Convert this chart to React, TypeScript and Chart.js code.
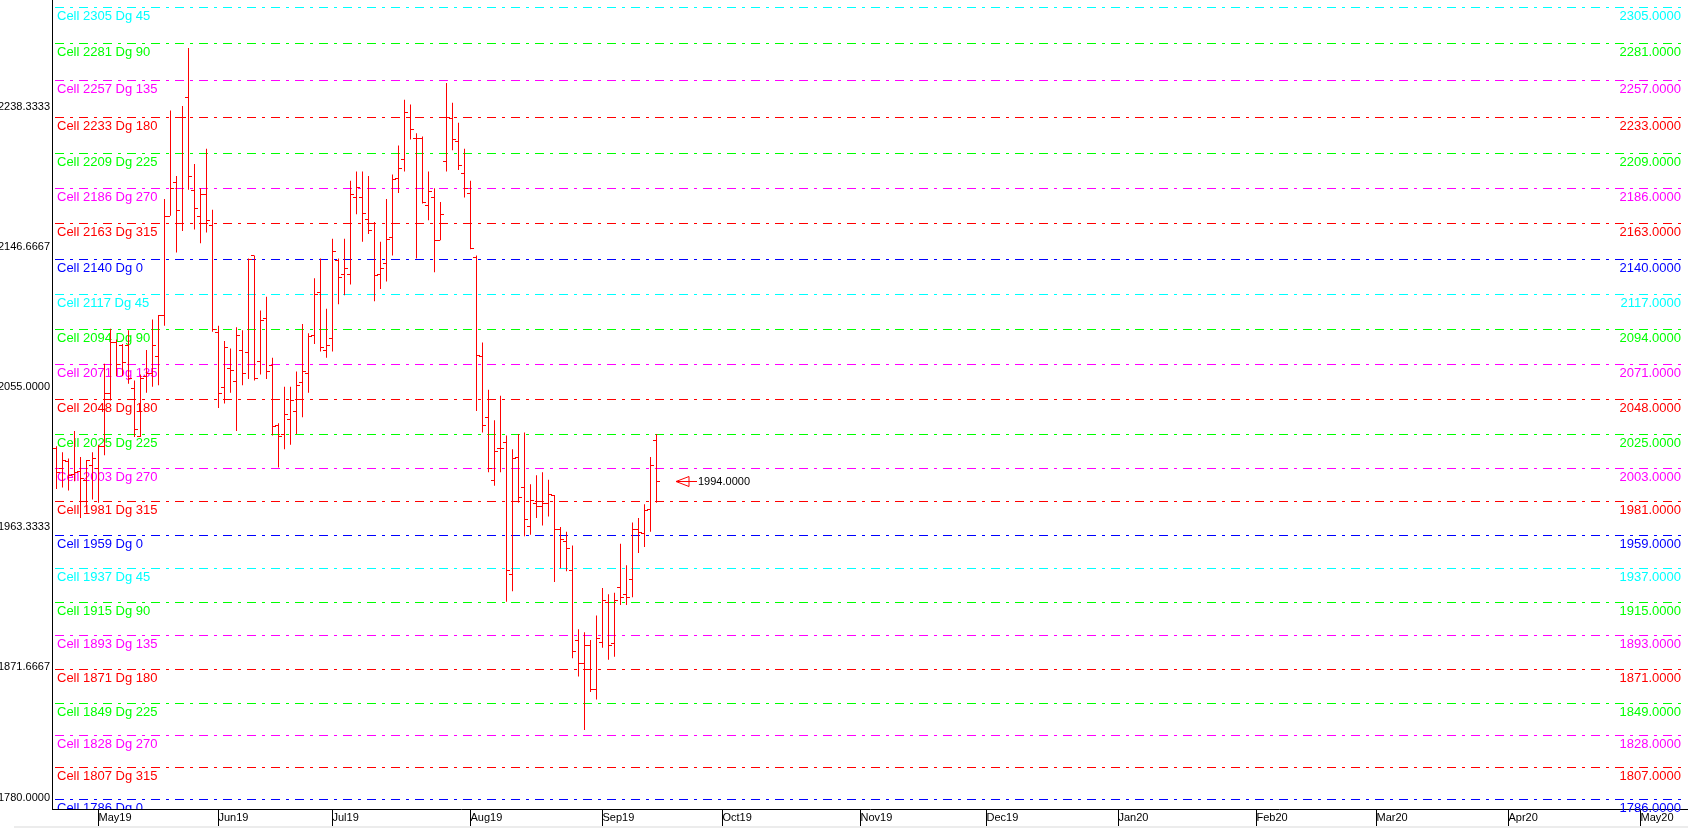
import React, { useEffect, useRef } from "react";
import { Chart, registerables } from "chart.js";
Chart.register(...registerables);

// ---- Data (trading-day index 0..100) ----
const opens = [2016,2003,2007,1999,2001,1995,2005,2003,2017,2052,2085,2083,2083,2055,2024,2063,2065,2076,2103,2168,2190,2163,2246,2185,2168,2182,2162,2092,2056,2068,2060,2080,2079,2142,2073,2101,2070,2031,2025,2035,2040,2059,2065,2090,2118,2080,2088,2139,2130,2130,2180,2180,2166,2163,2130,2137,2154,2193,2205,2233,2219,2219,2175,2180,2152,2204,2232,2217,2196,2183,2141,2076,2036,1995,2016,2020,1933,2010,1990,1965,1980,1978,1980,1985,1963,1955,1936,1890,1875,1887,1858,1889,1915,1888,1925,1920,1930,1963,1960,1976,2021];
const highs = [2017,2013,2009,2027,2010,2008,2013,2018,2071,2094,2087,2084,2093,2060,2064,2080,2100,2103,2179,2237,2194,2240,2278,2202,2186,2212,2172,2096,2086,2081,2095,2093,2140,2142,2106,2115,2075,2032,2056,2056,2066,2097,2091,2127,2140,2107,2153,2140,2153,2191,2197,2197,2194,2164,2151,2179,2195,2214,2244,2241,2222,2220,2197,2186,2177,2255,2242,2229,2212,2191,2142,2085,2054,2034,2050,2024,2015,2025,2026,1992,1998,2000,1995,1985,1964,1961,1952,1897,1895,1890,1906,1924,1920,1921,1953,1939,1967,1970,1979,2010,2025];
const lows = [1989,1990,1988,1994,1970,1974,1982,1980,2011,2047,2063,2063,2058,2023,2023,2052,2056,2057,2096,2168,2144,2158,2185,2159,2150,2157,2092,2042,2045,2052,2027,2057,2061,2060,2064,2061,2024,2003,2015,2018,2025,2036,2052,2084,2079,2075,2079,2110,2116,2123,2169,2151,2156,2112,2120,2125,2142,2183,2197,2218,2140,2176,2165,2131,2152,2197,2211,2198,2180,2146,2040,2026,2000,1991,2000,1915,1922,1980,1958,1959,1970,1965,1971,1928,1937,1935,1878,1866,1831,1856,1851,1885,1877,1879,1913,1913,1918,1947,1951,1961,1980];
const closes = [2000,2008,1998,2000,1996,2008,2009,2017,2052,2085,2071,2072,2062,2028,2062,2065,2083,2103,2168,2186,2172,2233,2194,2173,2182,2165,2094,2052,2082,2067,2090,2065,2140,2062,2100,2066,2030,2024,2038,2047,2057,2066,2089,2117,2082,2083,2145,2128,2134,2182,2187,2170,2159,2129,2134,2153,2192,2199,2236,2225,2219,2177,2184,2152,2169,2233,2218,2201,2186,2147,2077,2031,2003,2014,2016,1936,2009,1984,1969,1982,1978,1980,1986,1963,1956,1950,1883,1875,1887,1858,1891,1916,1887,1916,1918,1918,1963,1961,1975,2005,1994];

// month tick labels on the x axis (trading-day index of first day of month)
const monthLabels = ["May19","Jun19","Jul19","Aug19","Sep19","Oct19","Nov19","Dec19","Jan20","Feb20","Mar20","Apr20","May20"];
const monthIndex = [7,27,46,69,91,111,134,155,177,200,220,242,264];

// y-axis tick values
const yTickValues = [1780, 1871.6667, 1963.3333, 2055, 2146.6667, 2238.3333];

// Gann cell levels
const levelValues = [2305,2281,2257,2233,2209,2186,2163,2140,2117,2094,2071,2048,2025,2003,1981,1959,1937,1915,1893,1871,1849,1828,1807,1786];
const levelDegrees = [45,90,135,180,225,270,315,0,45,90,135,180,225,270,315,0,45,90,135,180,225,270,315,0];

const degreeColors: Record<number, string> = {
  0: "#0000ff", 45: "#00ffff", 90: "#00ff00", 135: "#ff00ff",
  180: "#ff0000", 225: "#00ff00", 270: "#ff00ff", 315: "#ff0000",
};

const FONT = "'Liberation Sans', Arial, sans-serif";
const X_MIN = -0.75;
const X_MAX = 271.9167;
const Y_MIN = 1779.25;
const Y_MAX = 2309.4;

const levelsPlugin = {
  id: "levels",
  beforeDatasetsDraw(chart: any) {
    const { ctx, chartArea, scales } = chart;
    const y = scales.y;
    ctx.save();
    ctx.beginPath();
    ctx.rect(chartArea.left + 1, chartArea.top, chartArea.right - chartArea.left, chartArea.bottom - chartArea.top);
    ctx.clip();
    ctx.lineWidth = 1;
    ctx.setLineDash([9, 6, 3, 6]);
    levelValues.forEach((v, k) => {
      const col = degreeColors[levelDegrees[k]];
      const py = Math.round(y.getPixelForValue(v)) + 0.5;
      ctx.strokeStyle = col;
      ctx.beginPath();
      ctx.moveTo(chartArea.left + 3, py);
      ctx.lineTo(1682, py);
      ctx.stroke();
    });
    ctx.setLineDash([]);
    ctx.font = `13px ${FONT}`;
    ctx.textBaseline = "alphabetic";
    ctx.textAlign = "left";
    levelValues.forEach((v, k) => {
      const col = degreeColors[levelDegrees[k]];
      const py = Math.round(y.getPixelForValue(v));
      ctx.fillStyle = col;
      ctx.fillText(`Cell ${v} Dg ${levelDegrees[k]}`, chartArea.left + 5, py + 13);
    });
    ctx.restore();
    ctx.save();
    ctx.font = `13px ${FONT}`;
    ctx.textBaseline = "alphabetic";
    ctx.textAlign = "right";
    levelValues.forEach((v, k) => {
      const col = degreeColors[levelDegrees[k]];
      const py = Math.round(y.getPixelForValue(v));
      ctx.fillStyle = col;
      ctx.fillText(v.toFixed(4), 1681, py + 13);
    });
    ctx.restore();
  },
};

const ohlcTicksPlugin = {
  id: "ohlcTicks",
  afterDatasetsDraw(chart: any) {
    const { ctx, scales, chartArea } = chart;
    const x = scales.x;
    const y = scales.y;
    ctx.save();
    ctx.fillStyle = "#ff0000";
    for (let i = 0; i < opens.length; i++) {
      const px = Math.floor(x.getPixelForValue(i));
      const yo = Math.round(y.getPixelForValue(opens[i]));
      const yc = Math.round(y.getPixelForValue(closes[i]));
      ctx.fillRect(px - 3, yo, 3, 1);
      ctx.fillRect(px + 1, yc, 3, 1);
    }
    // last-price marker
    const n = closes.length - 1;
    const lastPx = Math.floor(x.getPixelForValue(n));
    const ly = Math.round(y.getPixelForValue(closes[n])) + 0.5;
    const tip = lastPx + 20;
    ctx.strokeStyle = "#ff0000";
    ctx.lineWidth = 1;
    ctx.beginPath();
    ctx.moveTo(tip, ly);
    ctx.lineTo(tip + 13, ly - 5);
    ctx.lineTo(tip + 13, ly + 5);
    ctx.closePath();
    ctx.moveTo(tip, ly);
    ctx.lineTo(tip + 21, ly);
    ctx.stroke();
    ctx.fillStyle = "#000000";
    ctx.font = `11px ${FONT}`;
    ctx.textAlign = "left";
    ctx.textBaseline = "middle";
    ctx.fillText(closes[n].toFixed(4), tip + 22, ly);

    // y-axis value labels (kept inside the plot height like the original)
    ctx.textAlign = "right";
    yTickValues.forEach((v) => {
      const py = Math.min(y.getPixelForValue(v), chartArea.bottom - 10) - 1;
      ctx.fillText(v.toFixed(4), chartArea.left - 2, py);
    });
    ctx.restore();
  },
  afterDraw(chart: any) {
    const { ctx } = chart;
    ctx.save();
    ctx.fillStyle = "#ececec";
    ctx.fillRect(14, 826, 1674, 2);
    ctx.restore();
  },
};

export default function App() {
  const canvasRef = useRef<HTMLCanvasElement | null>(null);

  useEffect(() => {
    document.body.style.margin = "0";
    const canvas = canvasRef.current;
    if (!canvas) return;
    const chart = new Chart(canvas, {
      type: "bar",
      data: {
        datasets: [
          {
            data: highs.map((h, i) => ({ x: i, y: [lows[i], h] })) as any,
            backgroundColor: "#ff0000",
            borderWidth: 0,
            barThickness: 1,
            inflateAmount: 0,
            grouped: false,
          } as any,
        ],
      },
      options: {
        responsive: false,
        devicePixelRatio: 1,
        animation: false,
        layout: { padding: 0 },
        plugins: { legend: { display: false }, tooltip: { enabled: false } },
        scales: {
          x: {
            type: "linear",
            offset: false,
            min: X_MIN,
            max: X_MAX,
            afterBuildTicks: (s: any) => {
              s.ticks = monthIndex.map((v) => ({ value: v }));
            },
            afterFit: (s: any) => {
              s.height = 19;
              s.paddingLeft = 0;
              s.paddingRight = 0;
              s.paddingTop = 0;
              s.paddingBottom = 0;
            },
            ticks: {
              autoSkip: false,
              maxRotation: 0,
              minRotation: 0,
              align: "start",
              padding: -17,
              color: "#000000",
              font: { family: FONT, size: 11 },
              callback: (v: any) => {
                const k = monthIndex.indexOf(Number(v));
                return k >= 0 ? monthLabels[k] : "";
              },
            },
            grid: { offset: false, drawOnChartArea: false, drawTicks: true, tickLength: 19, color: "#000000", lineWidth: 1 },
            border: { display: true, color: "#000000", width: 1 },
          },
          y: {
            type: "linear",
            min: Y_MIN,
            max: Y_MAX,
            afterBuildTicks: (s: any) => {
              s.ticks = yTickValues.map((v) => ({ value: v }));
            },
            afterFit: (s: any) => {
              s.width = 52;
              s.paddingLeft = 0;
              s.paddingRight = 0;
              s.paddingTop = 0;
              s.paddingBottom = 0;
            },
            ticks: { display: false },
            grid: { drawOnChartArea: false, drawTicks: false },
            border: { display: true, color: "#000000", width: 1 },
          },
        },
      } as any,
      plugins: [levelsPlugin, ohlcTicksPlugin],
    });
    return () => chart.destroy();
  }, []);

  return (
    <div style={{ position: "absolute", left: 0, top: 0, width: 1688, height: 828, background: "#ffffff" }}>
      <canvas ref={canvasRef} width={1688} height={828} style={{ display: "block" }} />
    </div>
  );
}
